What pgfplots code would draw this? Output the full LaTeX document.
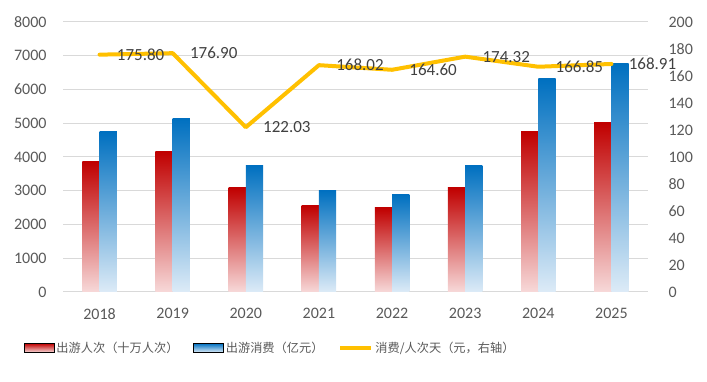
\documentclass[border=0pt]{standalone}
\usepackage{pgfplots}
\pgfplotsset{compat=1.18}
\usepackage{fontspec}
\setmainfont{Carlito}
\newfontfamily\cjk{Noto Sans CJK SC}
\definecolor{tickgray}{HTML}{595959}
\definecolor{gridgray}{HTML}{D9D9D9}
\definecolor{lblgray}{HTML}{404040}
\definecolor{redtop}{HTML}{C00000}
\definecolor{redbot}{HTML}{F7D9D9}
\definecolor{bluetop}{HTML}{0070C0}
\definecolor{bluebot}{HTML}{DDEBF7}
\definecolor{gold}{HTML}{FFC000}
% one bar per \addplot so that each bar carries its own gradient
\newcommand{\rbar}[2]{\addplot[ybar, bar width=17.3pt, bar shift=-8.65pt, draw=none,
  top color=redtop, bottom color=redbot, forget plot] coordinates {(#1,#2)};}
\newcommand{\bbar}[2]{\addplot[ybar, bar width=17.3pt, bar shift=8.65pt, draw=none,
  top color=bluetop, bottom color=bluebot, forget plot] coordinates {(#1,#2)};}
\begin{document}
\begin{tikzpicture}
\path[use as bounding box] (0,0) rectangle (707pt,382pt);
\begin{axis}[
  at={(63pt,90pt)}, anchor=south west,
  scale only axis, width=585pt, height=270pt,
  xmin=-0.5, xmax=7.5, ymin=0, ymax=8000,
  xtick={0,...,7}, xticklabels={2018,2019,2020,2021,2022,2023,2024,2025},
  ytick={0,1000,...,8000},
  axis x line*=bottom, axis y line*=left,
  x axis line style={gridgray, line width=1pt, -},
  y axis line style={draw=none},
  tick style={draw=none}, major tick length=0pt,
  ymajorgrids, grid style={gridgray, line width=1pt},
  axis on top=false,
  ticklabel style={font=\fontsize{16}{19}\selectfont, text=tickgray},
  xticklabel style={yshift=-13pt},
  yticklabel style={xshift=-13pt},
  /pgf/number format/assume math mode=true,
  /pgf/number format/1000 sep={},
  legend columns=3,
  legend cell align=left,
  legend style={at={(-0.072,-0.207)}, anchor=west, draw=none, fill=none,
    font=\cjk\fontsize{12.2}{14}\selectfont, text=tickgray,
    /tikz/every even column/.append style={column sep=13pt}},
]
% 出游人次（十万人次）
\rbar{0}{3860} \rbar{1}{4155} \rbar{2}{3090} \rbar{3}{2555}
\rbar{4}{2495} \rbar{5}{3090} \rbar{6}{4745} \rbar{7}{5012}
% 出游消费（亿元）
\bbar{0}{4745} \bbar{1}{5130} \bbar{2}{3740} \bbar{3}{3000}
\bbar{4}{2880} \bbar{5}{3740} \bbar{6}{6315} \bbar{7}{6760}
\addlegendimage{legend image code/.code={\fill[top color=redtop, bottom color=redbot] (0pt,-4.5pt) rectangle (30pt,4.5pt);}}
\addlegendentry{出游人次（十万人次）}
\addlegendimage{legend image code/.code={\fill[top color=bluetop, bottom color=bluebot] (0pt,-4.5pt) rectangle (30pt,4.5pt);}}
\addlegendentry{出游消费（亿元）}
\addlegendimage{legend image code/.code={\draw[gold, line width=4pt] (0pt,0pt) -- (31pt,0pt);}}
\addlegendentry{消费/人次天（元，右轴）}
\end{axis}
\begin{axis}[
  at={(63pt,90pt)}, anchor=south west,
  scale only axis, width=585pt, height=270pt,
  xmin=-0.5, xmax=7.5, ymin=0, ymax=200,
  axis x line=none, axis y line*=right,
  y axis line style={draw=none},
  tick style={draw=none}, major tick length=0pt,
  ytick={0,20,...,200},
  ticklabel style={font=\fontsize{16}{19}\selectfont, text=tickgray},
  yticklabel style={xshift=17pt},
  /pgf/number format/assume math mode=true,
  clip=false,
]
\addplot[gold, line width=4pt, line join=round, line cap=round,
  nodes near coords, point meta=explicit symbolic,
  nodes near coords style={anchor=west, xshift=12pt, font=\fontsize{17}{20}\selectfont, text=lblgray}]
  coordinates {(0,175.80) [175.80] (1,176.90) [176.90] (2,122.03) [122.03] (3,168.02) [168.02]
               (4,164.60) [164.60] (5,174.32) [174.32] (6,166.85) [166.85] (7,168.91) [168.91]};
\end{axis}
\end{tikzpicture}
\end{document}
